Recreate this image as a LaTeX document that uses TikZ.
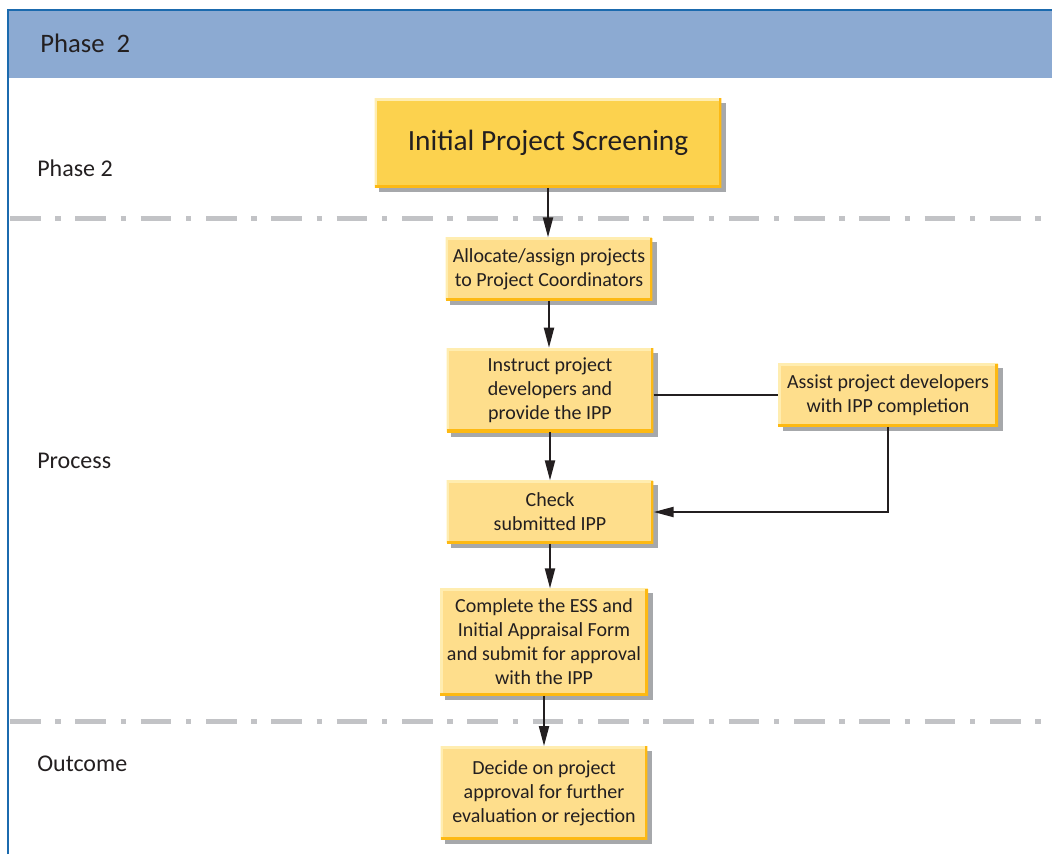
\documentclass[tikz,border=0pt]{standalone}
\usepackage{fontspec}
\setmainfont{Carlito}
\usetikzlibrary{arrows.meta,shadows}
\definecolor{frameblue}{HTML}{1B6AAE}
\definecolor{headblue}{HTML}{8CAAD2}
\definecolor{boxfill}{HTML}{FEDE8C}
\definecolor{mainfill}{HTML}{FCD24E}
\definecolor{boxedge}{HTML}{FDB913}
\definecolor{boxlight}{HTML}{FFEDB0}
\definecolor{shadowgrey}{HTML}{A6A8AB}
\definecolor{sepgrey}{HTML}{C2C3C6}
\definecolor{textdark}{HTML}{231F20}
\begin{document}
\begin{tikzpicture}[x=0.75pt,y=-0.75pt,
	stepbox/.style={fill=boxfill,align=center,text=textdark,inner sep=0pt,
		font=\fontsize{15}{18}\selectfont,
		drop shadow={shadow xshift=3.5pt,shadow yshift=-3.5pt,fill=shadowgrey,opacity=1},
		path picture={
			\draw[boxlight,line width=4pt] (path picture bounding box.south west) |- (path picture bounding box.north east);
			\draw[boxedge,line width=4pt] (path picture bounding box.south west) -| (path picture bounding box.north east);
		}},
	mainbox/.style={stepbox,fill=mainfill,font=\fontsize{22}{26}\selectfont},
	lanelabel/.style={anchor=west,inner sep=0pt,text=textdark,font=\fontsize{18}{21}\selectfont},
	lanesep/.style={sepgrey,line width=3.75pt,dash pattern=on 23pt off 11pt on 4pt off 11pt},
	flow/.style={textdark,line width=1.5pt,-{Triangle[length=15pt,width=7.5pt]}},
	link/.style={textdark,line width=1.5pt}]
\useasboundingbox (0,0) rectangle (1052,854);
% frame and header
\fill[headblue] (8,10) rectangle (1052,78);
\draw[frameblue,line width=1.5pt] (8,854) -- (8,10) -- (1052,10);
\node[lanelabel,font=\fontsize{20}{24}\selectfont] (head) at (40,43) {Phase\ \ 2};
% lanes
\draw[lanesep] (10,218) -- (1052,218);
\draw[lanesep] (10,721) -- (1052,721);
\node[lanelabel] (lphase) at (37,168) {Phase 2};
\node[lanelabel] (lproc) at (37,461) {Process};
\node[lanelabel] (lout) at (37,764) {Outcome};
% boxes
\node[mainbox,minimum width=260pt,minimum height=67pt] (screen) at (548,143) {Initial Project Screening};
\node[stepbox,minimum width=155pt,minimum height=47pt] (alloc) at (549,269) {Allocate/assign projects\\to Project Coordinators};
\node[stepbox,minimum width=155pt,minimum height=63pt] (instruct) at (550,390) {Instruct project\\developers and\\provide the IPP};
\node[stepbox,minimum width=165pt,minimum height=47pt] (assist) at (888,395) {Assist project developers\\with IPP completion};
\node[stepbox,minimum width=155pt,minimum height=47pt] (check) at (550,512) {Check\\submitted IPP};
\node[stepbox,minimum width=156pt,minimum height=80pt] (complete) at (544,642) {Complete the ESS and\\Initial Appraisal Form\\and submit for approval\\with the IPP};
\node[stepbox,minimum width=155pt,minimum height=70pt] (decide) at (544,793) {Decide on project\\approval for further\\evaluation or rejection};
% connectors
\draw[flow] (screen.south) -- (screen.south |- alloc.north);
\draw[flow] (alloc.south) -- (alloc.south |- instruct.north);
\draw[flow] (instruct.south) -- (instruct.south |- check.north);
\draw[flow] (check.south) -- (check.south |- complete.north);
\draw[flow] (complete.south) -- (complete.south |- decide.north);
\draw[link] (instruct.east |- assist.west) -- (assist.west);
\draw[flow] (assist.south) |- (check.east);
\end{tikzpicture}
\end{document}
